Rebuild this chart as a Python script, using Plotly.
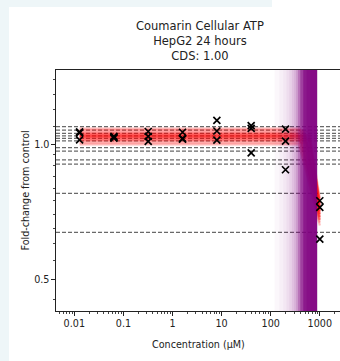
import plotly.graph_objects as go

# ---------------- data ----------------
title_lines = ["Coumarin Cellular ATP", "HepG2 24 hours", "CDS: 1.00"]
x_label = "Concentration (µM)"
y_label = "Fold-change from control"

x_tickvals = [0.01, 0.1, 1, 10, 100, 1000]
x_ticktext = ["0.01", "0.1", "1", "10", "100", "1000"]
y_tickvals = [0.5, 1.0]
y_ticktext = ["0.5", "1.0"]
y_minor_vals = [0.45, 0.55, 0.6, 0.65, 0.7, 0.75, 0.8, 0.85, 0.9, 0.95, 1.1, 1.2, 1.3, 1.4]

# measured responses (black x markers)
pt_conc = [0.0128, 0.0128, 0.0128,
           0.064, 0.064, 0.064,
           0.32, 0.32, 0.32,
           1.6, 1.6, 1.6,
           8, 8, 8,
           40, 40, 40,
           200, 200, 200,
           1000, 1000, 1000]
pt_fold = [1.070, 1.065, 1.027,
           1.045, 1.040, 1.036,
           1.072, 1.045, 1.019,
           1.068, 1.035, 1.030,
           1.135, 1.075, 1.025,
           1.105, 1.090, 0.960,
           1.085, 1.020, 0.880,
           0.750, 0.725, 0.615]

# grey dashed reference levels
ref_levels = [1.099, 1.080, 1.062, 1.048, 1.035, 1.021, 0.987, 0.969, 0.926, 0.906, 0.779, 0.637]

# fitted curves (red): baseline level, concentration where drop starts, level at top dose
curve_start = 0.0128
curve_end = 1000
curve_levels = [1.003, 1.012, 1.020, 1.026, 1.030, 1.034, 1.038, 1.041, 1.044,
                1.047, 1.050, 1.053, 1.056, 1.060, 1.065, 1.072, 1.080, 1.088]
curve_breaks = [380, 560, 420, 640, 470, 600, 400, 520, 580,
                440, 500, 620, 540, 360, 480, 590, 450, 390]
curve_ends = [0.66, 0.70, 0.68, 0.73, 0.71, 0.75, 0.69, 0.72, 0.74,
              0.70, 0.72, 0.76, 0.73, 0.67, 0.71, 0.74, 0.69, 0.68]

# point-of-departure distribution (purple band): bin edges (µM) and shading strength
pod_edges = [120, 150, 180, 210, 240, 270, 300, 330, 360, 400, 460, 540, 640, 760, 880]
pod_alpha = [0.03, 0.06, 0.09, 0.13, 0.18, 0.24, 0.30, 0.40, 0.55, 0.75, 0.90, 0.94, 0.95, 0.95]

# ---------------- figure ----------------
W, H = 340, 361
ML, MR, MT, MB = 56, 0, 70, 50
pw, ph = W - ML - MR, H - MT - MB

def px_x(p):
    return (p - ML) / pw

def px_y(p):
    return (H - MB - p) / ph

FONT = "DejaVu Sans"
TXT = "#222222"

fig = go.Figure()

xr = [-2.373, 3.411]
yr = [-0.3721, 0.1681]

# dashed reference lines
for lv in ref_levels:
    fig.add_trace(go.Scatter(
        x=[10 ** xr[0], 10 ** xr[1]], y=[lv, lv], mode="lines",
        line=dict(color="rgba(105,105,105,1)", width=1.3, dash="4px,2px"),
        hoverinfo="skip", showlegend=False))

# red fitted curves
for lv, br, en in zip(curve_levels, curve_breaks, curve_ends):
    fig.add_trace(go.Scatter(
        x=[curve_start, br, curve_end], y=[lv, lv, en], mode="lines",
        line=dict(color="rgba(255,0,0,0.28)", width=2.2),
        hoverinfo="skip", showlegend=False))

# purple PoD band: nested layers sharing the right edge so the stacked
# opacity in each bin equals pod_alpha (no seams between bins)
prev = 0.0
right = pod_edges[-1]
for left, target in zip(pod_edges[:-1], pod_alpha):
    a = 1 - (1 - target) / (1 - prev) if target > prev else 0.0
    prev = max(prev, target)
    if a <= 0:
        continue
    fig.add_trace(go.Scatter(
        x=[left, left, right, right, left], y=[0.3, 2.0, 2.0, 0.3, 0.3],
        mode="lines", fill="toself", fillcolor=f"rgba(128,0,128,{a:.4f})",
        line=dict(width=0), hoverinfo="skip", showlegend=False))

# markers
fig.add_trace(go.Scatter(
    x=pt_conc, y=pt_fold, mode="markers",
    marker=dict(symbol="x-thin", size=7, line=dict(width=1.7, color="black")),
    showlegend=False))

# x minor ticks
x_minor = []
for d in range(-3, 4):
    for m in range(2, 10):
        v = m * 10 ** d
        if 10 ** xr[0] < v < 10 ** xr[1]:
            x_minor.append(v)

fig.update_xaxes(
    type="log", range=xr, showgrid=False, zeroline=False,
    showline=True, linecolor="#222222", linewidth=1.2, mirror=True,
    ticks="outside", ticklen=3.5, tickwidth=1, tickcolor="#222222",
    tickmode="array", tickvals=x_tickvals, ticktext=x_ticktext,
    tickfont=dict(family=FONT, size=9.6, color=TXT),
    minor=dict(tickmode="array", tickvals=x_minor, ticks="outside",
               ticklen=2, tickwidth=0.8, tickcolor="#444444", showgrid=False))

fig.update_yaxes(
    type="log", range=yr, showgrid=False, zeroline=False,
    showline=True, linecolor="#222222", linewidth=1.2, mirror=False,
    ticks="outside", ticklen=3.5, tickwidth=1, tickcolor="#222222",
    tickmode="array", tickvals=y_tickvals, ticktext=y_ticktext,
    tickfont=dict(family=FONT, size=9.6, color=TXT),
    minor=dict(tickmode="array", tickvals=y_minor_vals, ticks="outside",
               ticklen=2, tickwidth=0.8, tickcolor="#444444", showgrid=False))

BG = "#eef6f8"
shapes = [
    dict(type="rect", xref="paper", yref="paper", layer="below",
         x0=px_x(0), x1=px_x(9), y0=px_y(H), y1=px_y(0),
         fillcolor=BG, line=dict(width=0)),
    dict(type="rect", xref="paper", yref="paper", layer="below",
         x0=px_x(0), x1=px_x(272), y0=px_y(7), y1=px_y(0),
         fillcolor=BG, line=dict(width=0)),
]

annotations = [
    dict(text="<br>".join(title_lines), xref="paper", yref="paper",
         x=px_x(200), y=px_y(41), xanchor="center", yanchor="middle",
         showarrow=False, font=dict(family=FONT, size=11.5, color=TXT)),
    dict(text=x_label, xref="paper", yref="paper",
         x=px_x(198), y=px_y(344), xanchor="center", yanchor="middle",
         showarrow=False, font=dict(family=FONT, size=9.6, color=TXT)),
    dict(text=y_label, xref="paper", yref="paper",
         x=px_x(24.5), y=px_y(191), xanchor="center", yanchor="middle",
         textangle=-90, showarrow=False,
         font=dict(family=FONT, size=9.6, color=TXT)),
]

fig.update_layout(
    width=W, height=H,
    margin=dict(l=ML, r=MR, t=MT, b=MB, pad=0),
    paper_bgcolor="white", plot_bgcolor="white",
    shapes=shapes, annotations=annotations,
    showlegend=False,
)

fig.write_html(
    "out.html",
    config={"displayModeBar": False},
    post_script="document.body.style.margin='0';document.body.style.padding='0';"
                "document.body.style.overflow='hidden';",
)
